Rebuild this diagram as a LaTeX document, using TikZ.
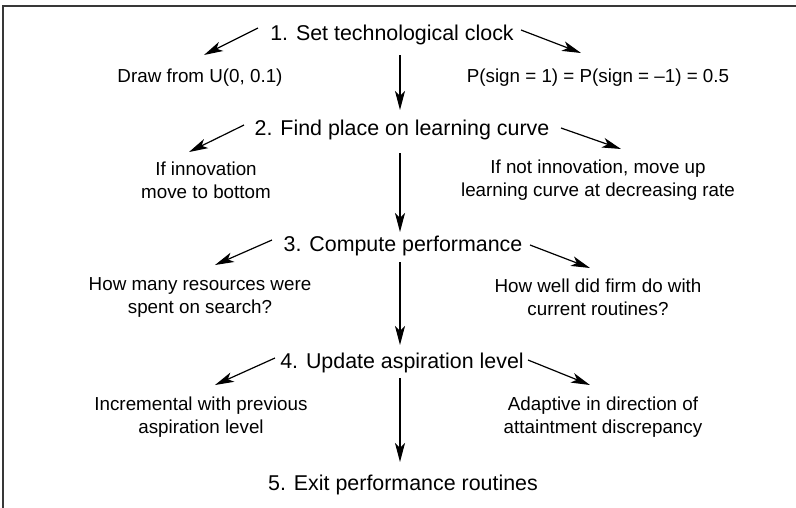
\documentclass[tikz,border=0pt]{standalone}
\usepackage{fontspec}
\setmainfont{Liberation Sans}
\usetikzlibrary{arrows.meta}
\begin{document}
\begin{tikzpicture}[x=1pt,y=-1pt,
  stepnode/.style={anchor=base,inner sep=0pt,font=\fontsize{21.4}{26}\selectfont},
  note/.style={inner sep=0pt,align=center,font=\fontsize{18.8}{23}\selectfont},
  arr/.style={line width=1.2pt,-{Stealth[length=19pt,width=10pt,inset=5pt]}},
  frame/.style={line width=2pt,draw=black!78}]
\useasboundingbox (0,0) rectangle (796,507);
% open frame: only the top and left edges lie inside the page
\draw[frame] (2.5,520) -- (2.5,5.5) -- (810,5.5);

% main steps
\node[stepnode] (s1) at (392,40) {1. Set technological clock};
\node[stepnode] (s2) at (402,135) {2. Find place on learning curve};
\node[stepnode] (s3) at (403,251) {3. Compute performance};
\node[stepnode] (s4) at (402,368) {4. Update aspiration level};
\node[stepnode] (s5) at (403,490) {5. Exit performance routines};

% side notes
\node[note,anchor=base] (a1) at (200,82) {Draw from U(0, 0.1)};
\node[note,anchor=base] (b1) at (598,82) {P(sign = 1) = P(sign = –1) = 0.5};
\node[note] (a2) at (206,180) {If innovation\\move to bottom};
\node[note] (b2) at (598,180) {If not innovation, move up\\learning curve at decreasing rate};
\node[note] (a3) at (200,297) {How many resources were\\spent on search?};
\node[note] (b3) at (598,297) {How well did firm do with\\current routines?};
\node[note] (a4) at (201,417) {Incremental with previous\\aspiration level};
\node[note] (b4) at (603,417) {Adaptive in direction of\\attaintment discrepancy};

% flow down the column
\coordinate (axis) at (400,0);
\draw[arr] ([yshift=-15pt]s1.base -| axis) -- ([yshift=25pt]s2.base -| axis);
\draw[arr] ([yshift=-18pt]s2.base -| axis) -- ([yshift=19pt]s3.base -| axis);
\draw[arr] ([yshift=-11pt]s3.base -| axis) -- ([yshift=23pt]s4.base -| axis);
\draw[arr] ([yshift=-10pt]s4.base -| axis) -- ([yshift=28pt]s5.base -| axis);

% branch end points
\coordinate (l1s) at (258,28);  \coordinate (l1e) at (204,55);
\coordinate (r1s) at (521,30);  \coordinate (r1e) at (581,53);
\coordinate (l2s) at (244,125); \coordinate (l2e) at (189,152);
\coordinate (r2s) at (561,128); \coordinate (r2e) at (621,149);
\coordinate (l3s) at (272,240); \coordinate (l3e) at (215,265);
\coordinate (r3s) at (530,245); \coordinate (r3e) at (590,268);
\coordinate (l4s) at (275,358); \coordinate (l4e) at (215,385);
\coordinate (r4s) at (528,360); \coordinate (r4e) at (590,385);

\foreach \p in {l1,r1,l2,r2,l3,r3,l4,r4}
  \draw[arr] (\p s) -- (\p e);
\end{tikzpicture}
\end{document}
